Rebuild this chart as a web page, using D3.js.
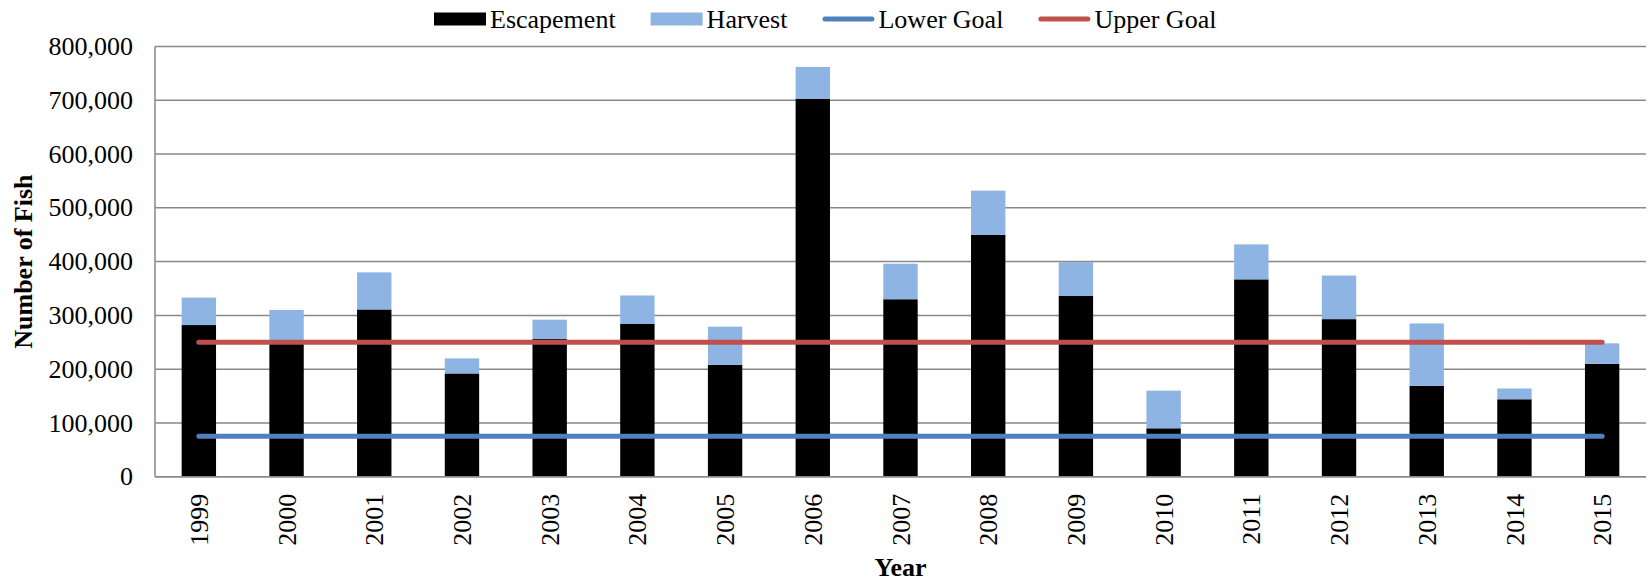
<!DOCTYPE html>
<html>
<head>
<meta charset="utf-8">
<script src="https://cdn.jsdelivr.net/npm/d3@7"></script>
<style>
  html, body { margin: 0; padding: 0; background: #fff; }
  svg { display: block; }
  svg text { font-family: "Liberation Serif", "Times New Roman", serif; }
</style>
</head>
<body>
<svg id="chart" width="1650" height="583"></svg>
<script>
const years = ["1999","2000","2001","2002","2003","2004","2005","2006","2007","2008","2009","2010","2011","2012","2013","2014","2015"];
const escapement = [282000,251000,311000,192000,256000,284000,208000,703000,330000,450000,336000,90000,367000,293000,169000,144000,210000];
const harvest    = [51000,59000,69000,28000,36000,53000,71000,59000,66000,82000,63000,70000,65000,81000,116000,20000,38000];
const lowerGoal  = [75000,75000,75000,75000,75000,75000,75000,75000,75000,75000,75000,75000,75000,75000,75000,75000,75000];
const upperGoal  = [250000,250000,250000,250000,250000,250000,250000,250000,250000,250000,250000,250000,250000,250000,250000,250000,250000];
const yTicks = [0,100000,200000,300000,400000,500000,600000,700000,800000];
const seriesNames = ["Escapement","Harvest","Lower Goal","Upper Goal"];

const colors = { esc: "#000000", harv: "#8EB4E3", lower: "#4F81BD", upper: "#C0504D", grid: "#898989" };

const svg = d3.select("#chart");
const mLeft = 155, mRight = 1646, mTop = 46.5, mBottom = 476.7;

const x = d3.scaleBand().domain(years).range([mLeft, mRight]).paddingInner(0.608).paddingOuter(0.304);
const y = d3.scaleLinear().domain([0, 800000]).range([mBottom, mTop]);

// gridlines
svg.append("g").selectAll("line").data(yTicks).join("line")
  .attr("x1", mLeft).attr("x2", mRight)
  .attr("y1", d => y(d)).attr("y2", d => y(d))
  .attr("stroke", colors.grid).attr("stroke-width", 1.5);

// left axis line
svg.append("line").attr("x1", mLeft).attr("x2", mLeft).attr("y1", mTop).attr("y2", mBottom)
  .attr("stroke", colors.grid).attr("stroke-width", 1.5);

// y axis labels
const fmt = d3.format(",");
svg.append("g").selectAll("text").data(yTicks).join("text")
  .attr("x", mLeft - 22).attr("y", d => y(d)).attr("dy", "0.33em")
  .attr("text-anchor", "end").attr("font-size", 26).attr("fill", "#000")
  .text(d => fmt(d));

// stacked bars
const stackData = years.map((yr, i) => ({ year: yr, esc: escapement[i], harv: harvest[i] }));
const stack = d3.stack().keys(["esc", "harv"])(stackData);
svg.append("g").selectAll("g").data(stack).join("g")
  .attr("fill", d => colors[d.key])
  .selectAll("rect").data(d => d).join("rect")
  .attr("x", d => x(d.data.year))
  .attr("width", x.bandwidth())
  .attr("y", d => y(d[1]))
  .attr("height", d => y(d[0]) - y(d[1]));

// x axis line
svg.append("line").attr("x1", mLeft).attr("x2", mRight).attr("y1", mBottom).attr("y2", mBottom)
  .attr("stroke", colors.grid).attr("stroke-width", 1.5);

// goal lines
const line = d3.line().x((d, i) => x(years[i]) + x.bandwidth() / 2).y(d => y(d));
[[lowerGoal, colors.lower], [upperGoal, colors.upper]].forEach(([vals, c]) => {
  svg.append("path").datum(vals).attr("d", line)
    .attr("fill", "none").attr("stroke", c).attr("stroke-width", 5)
    .attr("stroke-linecap", "round");
});

// x tick labels
svg.append("g").selectAll("text").data(years).join("text")
  .attr("transform", d => `translate(${x(d) + x.bandwidth() / 2},${mBottom + 17}) rotate(-90)`)
  .attr("dy", "0.35em").attr("text-anchor", "end").attr("font-size", 26).attr("fill", "#000")
  .text(d => d);

// axis titles
svg.append("text")
  .attr("transform", `translate(23,${(mTop + mBottom) / 2}) rotate(-90)`)
  .attr("dy", "0.35em").attr("text-anchor", "middle")
  .attr("font-size", 26).attr("font-weight", "bold").text("Number of Fish");
svg.append("text")
  .attr("x", (mLeft + mRight) / 2).attr("y", 576).attr("text-anchor", "middle")
  .attr("font-size", 26).attr("font-weight", "bold").text("Year");

// legend
const legend = svg.append("g");
const legendColors = [colors.esc, colors.harv, colors.lower, colors.upper];
let lx = 434;
const ly = 19;
seriesNames.forEach((name, i) => {
  if (i < 2) {
    legend.append("rect").attr("x", lx).attr("y", ly - 6.5).attr("width", 52).attr("height", 13)
      .attr("fill", legendColors[i]);
  } else {
    legend.append("line").attr("x1", lx + 2.5).attr("x2", lx + 52 - 2.5).attr("y1", ly).attr("y2", ly)
      .attr("stroke", legendColors[i]).attr("stroke-width", 5).attr("stroke-linecap", "round");
  }
  const t = legend.append("text").attr("x", lx + 56).attr("y", 28)
    .attr("font-size", 26).attr("fill", "#000").text(name);
  const w = t.node().getComputedTextLength();
  lx = lx + 56 + w + 35;
});
</script>
</body>
</html>
